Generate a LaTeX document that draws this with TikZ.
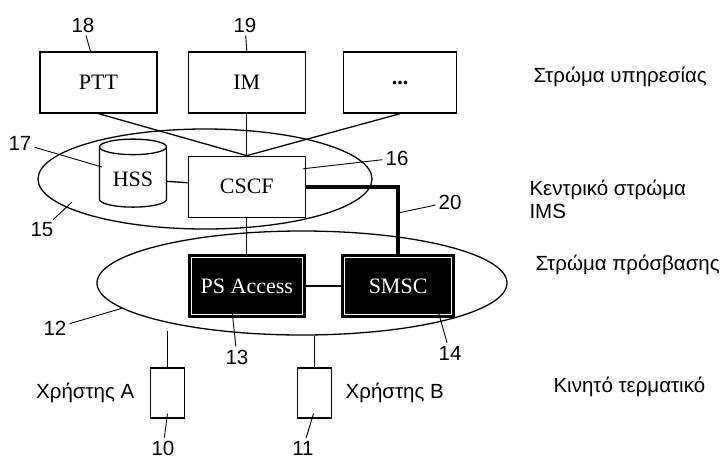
\documentclass[tikz,border=0pt]{standalone}
\usepackage{fontspec}
\setmainfont{Liberation Sans}
\newfontfamily\boxfont{Liberation Serif}
\usetikzlibrary{positioning,shapes.geometric}

\begin{document}
\begin{tikzpicture}[x=1pt, y=-1pt, node distance=30pt, font=\fontsize{20.5}{23}\selectfont]
    % Define styles
    \tikzstyle{servicebox} = [rectangle, minimum width=117pt, minimum height=61pt, text centered, draw=black, fill=white, line width=1.3pt, font=\boxfont\fontsize{22}{24}\selectfont]
    \tikzstyle{darkbox} = [rectangle, minimum width=117pt, minimum height=63pt, text centered, draw=black, fill=black, text=white, line width=1.3pt, font=\boxfont\fontsize{22}{24}\selectfont,
        path picture={\draw [white, line width=0.7pt] ([shift={(3pt,-3pt)}]path picture bounding box.north west) rectangle ([shift={(-3pt,3pt)}]path picture bounding box.south east);}]
    \tikzstyle{layer} = [ellipse, draw=black, line width=1.3pt, inner sep=0pt]
    \tikzstyle{terminal} = [rectangle, minimum width=34pt, minimum height=50pt, draw=black, fill=white, line width=1.3pt]
    \tikzstyle{link} = [line width=1.3pt]
    \tikzstyle{trunk} = [line width=4pt]
    \tikzstyle{refnum} = [inner sep=3pt]
    \tikzstyle{leader} = [line width=0.9pt]
    \tikzstyle{layertext} = [anchor=west, align=left]

    \useasboundingbox (0,0) rectangle (728,459);

    % Layers (ellipses)
    \node (core) [layer, minimum width=334pt, minimum height=100pt] at (205,179) {};
    \node (acc) [layer, minimum width=410pt, minimum height=104pt] at (302,283) {};

    % Place nodes
    \node (ptt) [servicebox] at (98.5,82.5) {PTT};
    \node (im) [servicebox, right=30pt of ptt] {IM};
    \node (more) [servicebox, minimum width=113pt, right=37pt of im] {\raisebox{-4pt}{\textbf{...}}};
    \node (cscf) [servicebox, below=42pt of im] {CSCF};
    \node (hss) [cylinder, shape border rotate=90, aspect=0.33, minimum width=67pt, minimum height=68pt, draw=black, fill=white, line width=1.3pt, font=\boxfont\fontsize{22}{24}\selectfont] at (133,179) {HSS};
    \node (psa) [darkbox, below=36pt of cscf] {PS Access};
    \node (smsc) [darkbox, minimum width=113pt, right=35pt of psa] {SMSC};
    \node (termA) [terminal] at (167.5,393) {};
    \node (termB) [terminal] at (314.5,393) {};
    \node (userA) [left=12pt of termA] {Χρήστης Α};
    \node (userB) [right=10pt of termB] {Χρήστης Β};

    % Links
    \draw [link] (ptt.south) -- (cscf.north);
    \draw [link] (im.south) -- (cscf.north);
    \draw [link] (more.south) -- (cscf.north);
    \draw [link] (hss) -- (cscf);
    \draw [link] (cscf.south) -- (psa.north);
    \draw [link] (psa) -- (smsc);
    \draw [trunk] (cscf.east) -| (smsc.north);
    \draw [link] (termA.north) -- ++(0,-36);
    \draw [link] (termB.north) -- (termB.north |- acc.south);

    % Reference numbers
    \node (n18) [refnum] at (83,25) {18};
    \node (n19) [refnum] at (245,25) {19};
    \node (n17) [refnum] at (20,143) {17};
    \node (n16) [refnum] at (397,158) {16};
    \node (n20) [refnum] at (450,202) {20};
    \node (n15) [refnum] at (42,230) {15};
    \node (n12) [refnum] at (55,328) {12};
    \node (n13) [refnum] at (237,357) {13};
    \node (n14) [refnum] at (450,353) {14};
    \node (n10) [refnum] at (163,448) {10};
    \node (n11) [refnum] at (303,448) {11};
    \coordinate (trunkpt) at (398,213);

    \draw [leader] (n18) -- ([xshift=-8pt]ptt.north);
    \draw [leader] (n19) -- (im.north);
    \draw [leader] (n17) -- ([shift={(-31pt,12pt)}]hss.center);
    \draw [leader] (n16) -- ([shift={(-3pt,18pt)}]cscf.east);
    \draw [leader] (n20) -- (trunkpt);
    \draw [leader] (n15) -- ([shift={(-133pt,-23pt)}]core.center);
    \draw [leader] (n12) -- (acc.188);
    \draw [leader] (n13) -- ([shift={(-15pt,10pt)}]psa.south);
    \draw [leader] (n14) -- ([shift={(-18pt,10pt)}]smsc.south east);
    \draw [leader] (n10) -- ([yshift=5pt]termA.south);
    \draw [leader] (n11) -- ([shift={(-1pt,5pt)}]termB.south);

    % Layer names
    \node (svc) [layertext] at (530,77) {Στρώμα υπηρεσίας};
    \node (ims) [layertext] at (526,199) {Κεντρικό στρώμα\\IMS};
    \node (accl) [layertext] at (532,265) {Στρώμα πρόσβασης};
    \node (mob) [layertext] at (550,387) {Κινητό τερματικό};
\end{tikzpicture}
\end{document}
